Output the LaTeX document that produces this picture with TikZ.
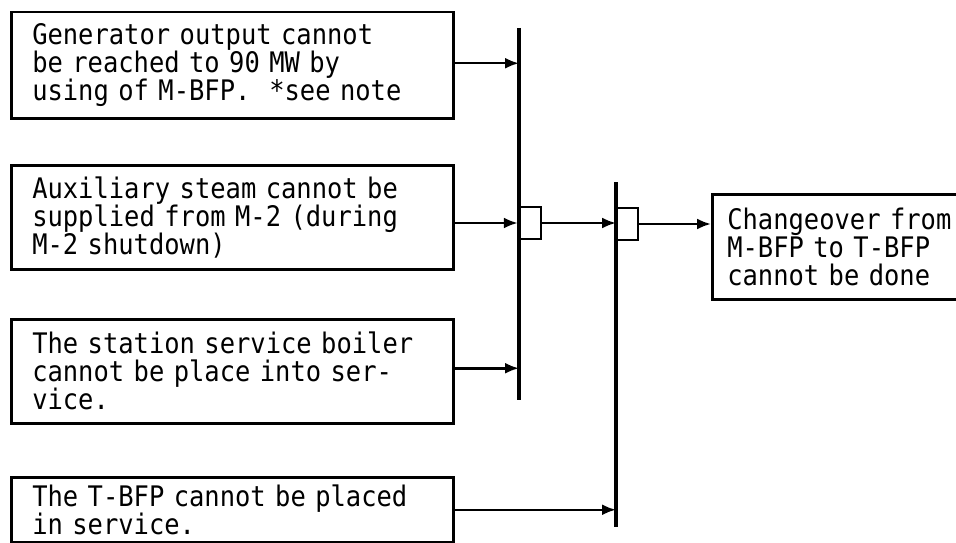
\documentclass[tikz,border=0pt]{standalone}
\usepackage{fontspec}
\setmainfont[FakeStretch=0.9]{DejaVu Sans Mono}
\usetikzlibrary{arrows.meta}
\begin{document}
\begin{tikzpicture}[x=1pt,y=-1pt,
  cause/.style={draw,line width=2.5pt,rectangle,minimum width=442pt,inner xsep=20pt,
    inner ysep=0pt,text width=400pt,align=left,anchor=north west,
    font=\fontsize{28.3}{28}\selectfont},
  result/.style={draw,line width=2.5pt,rectangle,minimum width=270pt,minimum height=105pt,
    inner xsep=14pt,inner ysep=0pt,text width=240pt,align=left,anchor=north west,
    font=\fontsize{28.3}{28}\selectfont},
  gate/.style={draw,line width=2.5pt,rectangle,minimum width=22pt,minimum height=32pt,inner sep=0pt},
  bus/.style={line width=3.2pt},
  arr/.style={-{Latex[length=14pt,width=11pt]},line width=2.5pt}]
\useasboundingbox (0,0) rectangle (956,543);
\clip (0,0) rectangle (956,543);

% cause boxes
\node[cause,minimum height=106pt] (c1) at (10,11)
  {Generator output cannot\\be reached to 90 MW by\\using of M-BFP.~~*see note};
\node[cause,minimum height=104pt] (c2) at (10,164)
  {Auxiliary steam cannot be\\supplied from M-2 (during\\M-2 shutdown)};
\node[cause,minimum height=104pt] (c3) at (10,318)
  {The station service boiler\\cannot be place into ser-\\vice.};
\node[cause,minimum height=65pt] (c4) at (10,476)
  {The T-BFP cannot be placed\\in service.};

% result box (right side runs off the picture)
\node[result] (out) at (711,193)
  {Changeover from\\M-BFP to T-BFP\\cannot be done};

% buses
\coordinate (b1top) at (519,28);
\coordinate (b1bot) at (519,400);
\coordinate (b2top) at (616,182);
\coordinate (b2bot) at (616,527);
\draw[bus] (b1top) -- (b1bot);
\draw[bus] (b2top) -- (b2bot);

% gates
\node[gate] (g1) at (530,223) {};
\node[gate] (g2) at (627,224) {};

% connectors
\draw[arr] ([yshift=2pt]c1.east) -- ([yshift=2pt]c1.east -| b1top);
\draw[arr] (c2.east |- g1.west) -- (g1.west);
\draw[arr] ([yshift=3pt]c3.east) -- ([yshift=3pt]c3.east -| b1top);
\draw[arr] (c4.east) -- (c4.east -| b2top);
\draw[arr] (g1.east) -- (g1.east -| b2top);
\draw[arr] (g2.east) -- (g2.east -| out.west);
\end{tikzpicture}
\end{document}
